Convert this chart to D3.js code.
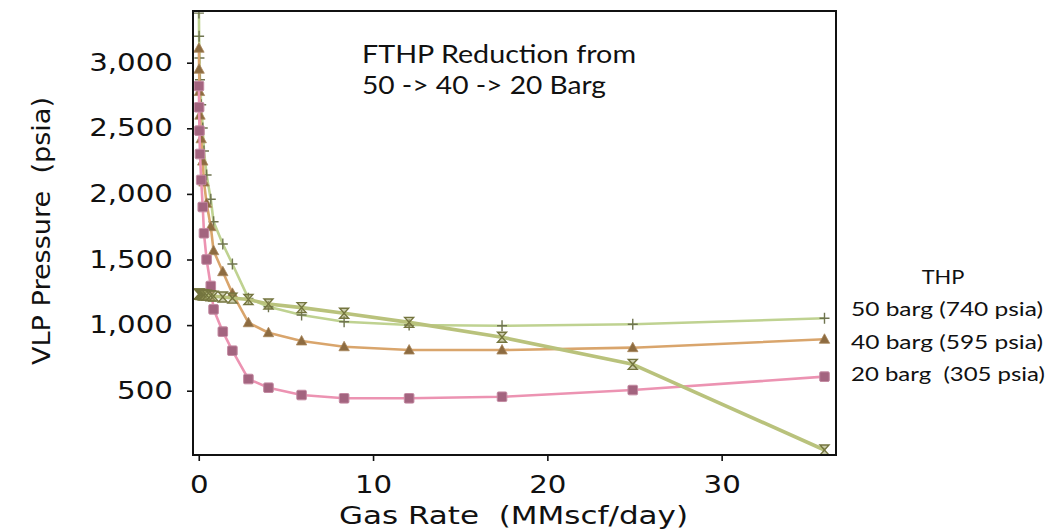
<!DOCTYPE html>
<html>
<head>
<meta charset="utf-8">
<script src="https://cdn.jsdelivr.net/npm/d3@7"></script>
<style>
  html, body { margin: 0; padding: 0; background: #fff; }
  svg { display: block; }
  text { white-space: pre; }
</style>
</head>
<body>
<svg id="chart" width="1053" height="532"></svg>
<script>
// ---------------- DATA ----------------
const gasRate = [0.01, 0.02, 0.04, 0.07, 0.14, 0.23, 0.30, 0.45, 0.69, 0.85, 1.38, 1.93, 2.85, 4.0, 5.9, 8.34, 12.07, 17.4, 24.9, 35.9];
const vlp50 = [3378, 3201, 3036, 2870, 2680, 2502, 2327, 2144, 1959, 1788, 1618, 1466, 1204, 1140, 1077, 1026, 1001, 995, 1006, 1052];
const vlp40 = [3110, 2950, 2780, 2600, 2420, 2250, 2090, 1928, 1750, 1567, 1407, 1242, 1018, 942, 879, 835, 810, 810, 828, 892];
const vlp20 = [2822, 2660, 2482, 2304, 2106, 1900, 1700, 1500, 1298, 1120, 950, 805, 589, 523, 467, 442, 442, 454, 505, 607];
const ipr   = [1236, 1236, 1235, 1234, 1233, 1231, 1230, 1228, 1224, 1221, 1214, 1206, 1195, 1161, 1133, 1090, 1021, 907, 701, 48];
const xTicks = [0, 10, 20, 30];
const yTicks = [500, 1000, 1500, 2000, 2500, 3000];
const legendTitle = "THP";
const legendLines = ["50 barg (740 psia)", "40 barg (595 psia)", "20 barg  (305 psia)"];
const noteLines = ["FTHP Reduction from", "50 -> 40 -> 20 Barg"];
const xTitle = "Gas Rate  (MMscf/day)";
const yTitle = "VLP Pressure  (psia)";

// ---------------- LAYOUT ----------------
const svg = d3.select("#chart");
const L = 193, R = 836, T = 11, B = 455;
const x = d3.scaleLinear().domain([-0.33, 36.56]).range([L, R]);
const y = d3.scaleLinear().domain([10, 3394]).range([B, T]);
const K = 1.22; // horizontal stretch of the reference text

function stretch(sel, k) {
  sel.each(function () {
    const l = this.getComputedTextLength();
    d3.select(this).attr("textLength", l * k).attr("lengthAdjust", "spacingAndGlyphs");
  });
}

// clip
svg.append("defs").append("clipPath").attr("id", "clip")
  .append("rect").attr("x", L + 1).attr("y", T + 1).attr("width", R - L - 2).attr("height", B - T - 2);

// frame
svg.append("rect").attr("x", L).attr("y", T).attr("width", R - L).attr("height", B - T)
  .attr("fill", "none").attr("stroke", "#111").attr("stroke-width", 2);

// axes
const xAxis = svg.append("g").attr("transform", `translate(0,${B})`)
  .call(d3.axisBottom(x).tickValues(xTicks).tickSize(6).tickFormat(d3.format("d")));
const yAxis = svg.append("g").attr("transform", `translate(${L},0)`)
  .call(d3.axisLeft(y).tickValues(yTicks).tickSize(6).tickFormat(d3.format(",")));
[xAxis, yAxis].forEach(g => {
  g.select(".domain").remove();
  g.selectAll(".tick line").attr("stroke", "#111").attr("stroke-width", 1.6);
  g.selectAll(".tick text").attr("font-family", "DejaVu Sans").attr("font-size", 24).attr("fill", "#111");
});
xAxis.selectAll(".tick text").attr("y", 38).attr("dy", 0);
yAxis.selectAll(".tick text").attr("x", -20).attr("dy", 7.5);
stretch(xAxis.selectAll(".tick text"), K);
stretch(yAxis.selectAll(".tick text"), K);

// axis titles
const xt = svg.append("text").attr("x", (L + R) / 2 - 1).attr("y", 524).attr("text-anchor", "middle")
  .attr("font-family", "DejaVu Sans").attr("font-size", 24).attr("fill", "#111").text(xTitle);
xt.attr("textLength", 349).attr("lengthAdjust", "spacingAndGlyphs");
const yt = svg.append("text").attr("transform", "translate(50,231) rotate(-90)").attr("text-anchor", "middle")
  .attr("font-family", "DejaVu Sans").attr("font-size", 24).attr("fill", "#111").text(yTitle);
yt.attr("textLength", 268).attr("lengthAdjust", "spacingAndGlyphs");

// ---------------- SERIES ----------------
const plot = svg.append("g").attr("clip-path", "url(#clip)");
const line = vals => d3.line().curve(d3.curveLinear)
  .x((d, i) => x(gasRate[i])).y(d => y(d))(vals);

const series = [
  { v: vlp50, line: "#bfd291", w: 2.6, m: "plus",  mc: "#6f7450" },
  { v: vlp40, line: "#d9a56c", w: 2.6, m: "tri",   mc: "#8d6b40" },
  { v: vlp20, line: "#ec93b2", w: 2.6, m: "sq",    mc: "#a3647f" },
  { v: ipr,   line: "#b9c27c", w: 3.6, m: "hour",  mc: "#74753f" }
];

series.forEach(s => {
  plot.append("path").attr("d", line(s.v)).attr("fill", "none")
    .attr("stroke", s.line).attr("stroke-width", s.w).attr("stroke-linejoin", "round");
  const g = plot.append("g");
  s.v.forEach((d, i) => {
    const cx = x(gasRate[i]), cy = y(d);
    if (s.m === "sq") {
      g.append("rect").attr("x", cx - 4.8).attr("y", cy - 4.8).attr("width", 9.6).attr("height", 9.6)
        .attr("rx", 1.2).attr("fill", s.mc).attr("stroke", "#c48aa2").attr("stroke-width", 1);
    } else if (s.m === "tri") {
      g.append("path").attr("d", `M${cx},${cy - 5.5}L${cx + 5.2},${cy + 4}L${cx - 5.2},${cy + 4}Z`)
        .attr("fill", s.mc).attr("stroke", "#a8875c").attr("stroke-width", 0.8);
    } else if (s.m === "plus") {
      g.append("path").attr("d", `M${cx - 5},${cy}H${cx + 5}M${cx},${cy - 5.5}V${cy + 5.5}`)
        .attr("stroke", s.mc).attr("stroke-width", 1.4).attr("fill", "none");
    } else {
      g.append("path").attr("d", `M${cx - 4.5},${cy - 5}H${cx + 4.5}L${cx - 4.5},${cy + 5}H${cx + 4.5}Z`)
        .attr("stroke", s.mc).attr("stroke-width", 1.4).attr("fill", "#9a9b5c").attr("fill-opacity", 0.5);
    }
  });
});

// ---------------- ANNOTATIONS ----------------
const n1 = svg.append("text").attr("x", 362).attr("y", 63).attr("font-family", "Lato").attr("font-size", 25)
  .attr("fill", "#111").text(noteLines[0]);
n1.attr("textLength", 274).attr("lengthAdjust", "spacingAndGlyphs");
const n2 = svg.append("text").attr("x", 362).attr("y", 94).attr("font-family", "Lato").attr("font-size", 25)
  .attr("fill", "#111").text(noteLines[1]);
n2.attr("textLength", 244).attr("lengthAdjust", "spacingAndGlyphs");

svg.append("text").attr("x", 943).attr("y", 284).attr("text-anchor", "middle").attr("font-family", "Lato")
  .attr("font-size", 18.5).attr("fill", "#111").text(legendTitle)
  .call(s => stretch(s, 1.18));
legendLines.forEach((t, i) => {
  svg.append("text").attr("x", 851).attr("y", 316 + i * 32.5).attr("font-family", "Lato")
    .attr("font-size", 18.5).attr("fill", "#111").text(t)
    .attr("textLength", 192 + (i === 2 ? 2 : 0)).attr("lengthAdjust", "spacingAndGlyphs");
});
</script>
</body>
</html>
